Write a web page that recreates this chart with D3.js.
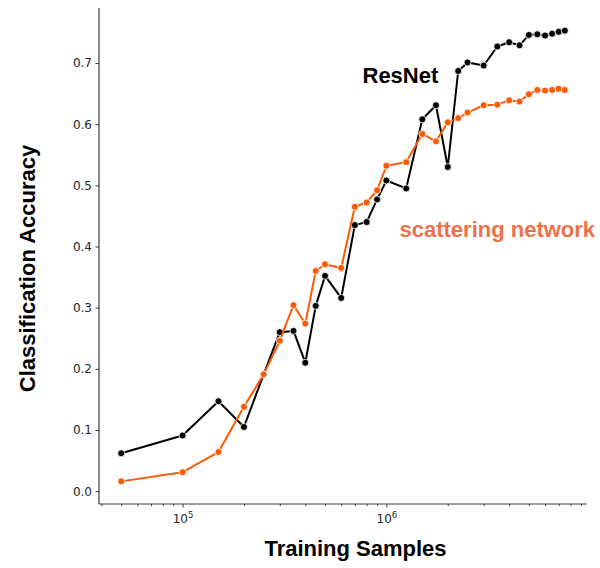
<!DOCTYPE html>
<html>
<head>
<meta charset="utf-8">
<script src="https://cdn.jsdelivr.net/npm/d3@7"></script>
<style>
  html, body { margin: 0; padding: 0; background: #fff; }
  svg { display: block; }
</style>
</head>
<body>
<svg id="chart" width="600" height="568"></svg>
<script>
// ---- data ----
const samples = [5e4, 1e5, 1.5e5, 2e5, 2.5e5, 3e5, 3.5e5, 4e5, 4.5e5, 5e5, 6e5, 7e5, 8e5, 9e5,
  1e6, 1.25e6, 1.5e6, 1.75e6, 2e6, 2.25e6, 2.5e6, 3e6, 3.5e6, 4e6, 4.5e6, 5e6, 5.5e6, 6e6, 6.5e6, 7e6, 7.5e6];
const resnet = [0.062, 0.091, 0.147, 0.105, 0.191, 0.260, 0.262, 0.210, 0.303, 0.352, 0.316, 0.435, 0.440, 0.477,
  0.508, 0.495, 0.608, 0.631, 0.530, 0.687, 0.701, 0.696, 0.727, 0.734, 0.729, 0.746, 0.747, 0.745, 0.748, 0.751, 0.753];
const scattering = [0.016, 0.031, 0.064, 0.138, 0.191, 0.246, 0.304, 0.274, 0.360, 0.371, 0.365, 0.465, 0.472, 0.492,
  0.532, 0.538, 0.584, 0.572, 0.603, 0.610, 0.619, 0.631, 0.632, 0.639, 0.637, 0.649, 0.656, 0.655, 0.656, 0.658, 0.656];
const yTicks = [0.0, 0.1, 0.2, 0.3, 0.4, 0.5, 0.6, 0.7];
const xMajorTicks = [1e5, 1e6];
const xMinorTicks = [4e4, 5e4, 6e4, 7e4, 8e4, 9e4, 2e5, 3e5, 4e5, 5e5, 6e5, 7e5, 8e5, 9e5,
  2e6, 3e6, 4e6, 5e6, 6e6, 7e6, 8e6, 9e6];
const seriesNames = ["ResNet", "scattering network"];

// ---- layout ----
const svg = d3.select("#chart");
const mLeft = 99, mRight = 587, mTop = 8, mBottom = 504;
const axisColor = "#3a3a3a";
const tickFont = "'DejaVu Sans', sans-serif";
const labelFont = "'Liberation Sans', Arial, sans-serif";

const x = d3.scaleLog().domain([Math.pow(10, 4.590), Math.pow(10, 6.984)]).range([mLeft, mRight]);
const y = d3.scaleLinear().domain([-0.021, 0.790]).range([mBottom, mTop]);

// ---- axes ----
const yAxis = d3.axisLeft(y).tickValues(yTicks).tickFormat(d3.format(".1f")).tickSize(3.5).tickPadding(3.5);
const gy = svg.append("g").attr("transform", `translate(${mLeft},0)`).call(yAxis);
gy.select(".domain").attr("d", `M0,${mTop}V${mBottom}`);

const xMinor = d3.axisBottom(x).tickValues(xMinorTicks).tickFormat("").tickSize(2).tickSizeOuter(0);
const gxm = svg.append("g").attr("transform", `translate(0,${mBottom})`).call(xMinor);
gxm.select(".domain").attr("d", `M${mLeft},0H${mRight}`);

const xAxis = d3.axisBottom(x).tickValues(xMajorTicks).tickFormat("").tickSize(3.5).tickSizeOuter(0);
const gx = svg.append("g").attr("transform", `translate(0,${mBottom})`).call(xAxis);
gx.select(".domain").remove();

[gy, gxm, gx].forEach(g => {
  g.selectAll(".domain").attr("stroke", axisColor).attr("stroke-width", 1.2);
  g.selectAll(".tick line").attr("stroke", axisColor).attr("stroke-width", 1);
});
gy.selectAll(".tick text").attr("font-family", tickFont).attr("font-size", 12).attr("fill", "#262626");

// x labels 10^N
gx.selectAll(".tick").each(function(d) {
  const t = d3.select(this).append("text")
    .attr("y", 18.5).attr("text-anchor", "middle")
    .attr("font-family", tickFont).attr("font-size", 12).attr("fill", "#262626");
  t.append("tspan").text("10");
  t.append("tspan").attr("font-size", 8.5).attr("dy", -4.5).text(Math.round(Math.log10(d)));
});

// ---- lines ----
const line = vals => d3.line().x((d, i) => x(samples[i])).y(d => y(d))(vals);
const series = [
  {vals: resnet, color: "#000000"},
  {vals: scattering, color: "#fe5a06"}
];
series.forEach(s => {
  svg.append("path").attr("d", line(s.vals)).attr("fill", "none")
    .attr("stroke", s.color).attr("stroke-width", 2).attr("stroke-linejoin", "round");
  svg.append("g").selectAll("circle").data(s.vals).join("circle")
    .attr("cx", (d, i) => x(samples[i])).attr("cy", d => y(d)).attr("r", 3.5)
    .attr("fill", s.color).attr("stroke", "#fff").attr("stroke-width", 0.8);
});

// ---- labels ----
svg.append("text").attr("x", 362.5).attr("y", 83)
  .attr("font-family", labelFont).attr("font-weight", "bold").attr("font-size", 22)
  .attr("fill", "#000").text(seriesNames[0]);
svg.append("text").attr("x", 399.5).attr("y", 237)
  .attr("font-family", labelFont).attr("font-weight", "bold").attr("font-size", 22)
  .attr("fill", "#f0704a").text(seriesNames[1]);

svg.append("text").attr("x", 355.5).attr("y", 556).attr("text-anchor", "middle")
  .attr("font-family", labelFont).attr("font-weight", "bold").attr("font-size", 22)
  .attr("fill", "#000").text("Training Samples");
svg.append("text").attr("transform", "translate(35,268.5) rotate(-90)").attr("text-anchor", "middle")
  .attr("font-family", labelFont).attr("font-weight", "bold").attr("font-size", 22)
  .attr("fill", "#000").text("Classification Accuracy");
</script>
</body>
</html>
